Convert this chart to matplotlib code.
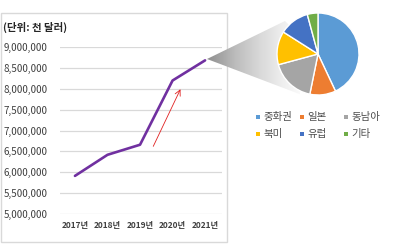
import matplotlib

matplotlib.use("Agg")

import matplotlib.pyplot as plt
import numpy as np
from matplotlib.patches import Polygon, Rectangle

plt.rcParams["font.family"] = ["Noto Sans CJK KR", "DejaVu Sans"]

years = ["2017년", "2018년", "2019년", "2020년", "2021년"]
exports = [5913000, 6418000, 6659000, 8197000, 8680000]
yticks = [5000000, 5500000, 6000000, 6500000, 7000000, 7500000, 8000000, 8500000, 9000000]

regions = ["중화권", "일본", "동남아", "북미", "유럽", "기타"]
shares = [43.0, 10.2, 17.6, 13.2, 11.8, 4.2]
colors = ["#5B9BD5", "#ED7D31", "#A5A5A5", "#FFC000", "#4472C4", "#70AD47"]

W, H = 393, 245
fig = plt.figure(figsize=(W / 100, H / 100), dpi=100)


def px(x0, y0, x1, y1):
    # pixel box (top-left origin) -> figure fraction rect
    return [x0 / W, 1 - y1 / H, (x1 - x0) / W, (y1 - y0) / H]


# overlay in pixel coordinates for the frame, cone and legend
over = fig.add_axes([0, 0, 1, 1], zorder=0)
over.set_xlim(0, W)
over.set_ylim(H, 0)
over.axis("off")
over.add_patch(Rectangle((1, 13), 226, 229, fill=False, ec="#D9D9D9", lw=1))
over.text(3, 27, "(단위: 천 달러)", fontsize=7.5, fontweight="bold",
          color="#262626", va="center", ha="left")

# zoom cone from the 2021 point to the pie
apex = (207, 59)
cone = Polygon([apex, (285, 21), (318, 54), (302, 95)], closed=True,
               fc="none", ec="none")
over.add_patch(cone)
grad = np.linspace(0, 1, 256).reshape(1, -1)
img = over.imshow(grad, cmap="Greys_r", vmin=-1.0, vmax=1.1,
                  extent=[apex[0], 300, 100, 15], aspect="auto", zorder=1)
img.set_clip_path(cone)
over.set_xlim(0, W)
over.set_ylim(H, 0)

# legend
for i, (name, c) in enumerate(zip(regions, colors)):
    lx = 258 + 44 * (i % 3)
    ly = 117 + 17 * (i // 3)
    over.add_patch(Rectangle((lx - 2, ly - 2), 4, 4, fc=c, ec="none"))
    over.text(lx + 5, ly, name, fontsize=7.5, color="#4d4d4d",
              va="center", ha="left")

# line chart
ax = fig.add_axes(px(60, 47, 222, 214), zorder=2)
ax.patch.set_alpha(0)
x = np.arange(len(years))
ax.plot(x, exports, color="#7030A0", lw=1.9, solid_capstyle="round")
ax.annotate("", xy=(3.28, 8050000), xytext=(2.37, 6560000),
            arrowprops=dict(arrowstyle="->", color="#E02020", lw=0.6))
ax.set_xlim(-0.46, 4.52)
ax.set_ylim(5000000, 9000000)
ax.set_yticks(yticks)
ax.set_yticklabels([f"{v:,}" for v in yticks], fontsize=7.1, color="#404040")
ax.set_xticks(x)
ax.set_xticklabels(years, fontsize=6, fontweight="bold", color="#404040")
ax.tick_params(length=0, axis="y", pad=9)
ax.tick_params(length=0, axis="x", pad=5)
ax.grid(axis="y", color="#D9D9D9", lw=0.9)
ax.set_axisbelow(True)
for s in ax.spines.values():
    s.set_visible(False)

# pie
r = 41
pax = fig.add_axes(px(318 - 1.25 * r, 54 - 1.25 * r, 318 + 1.25 * r, 54 + 1.25 * r),
                   zorder=3)
pax.pie(shares, colors=colors, startangle=90, counterclock=False,
        wedgeprops=dict(edgecolor="white", linewidth=1))
pax.set_aspect("equal")

fig.savefig("out.png", dpi=100)
plt.close(fig)
